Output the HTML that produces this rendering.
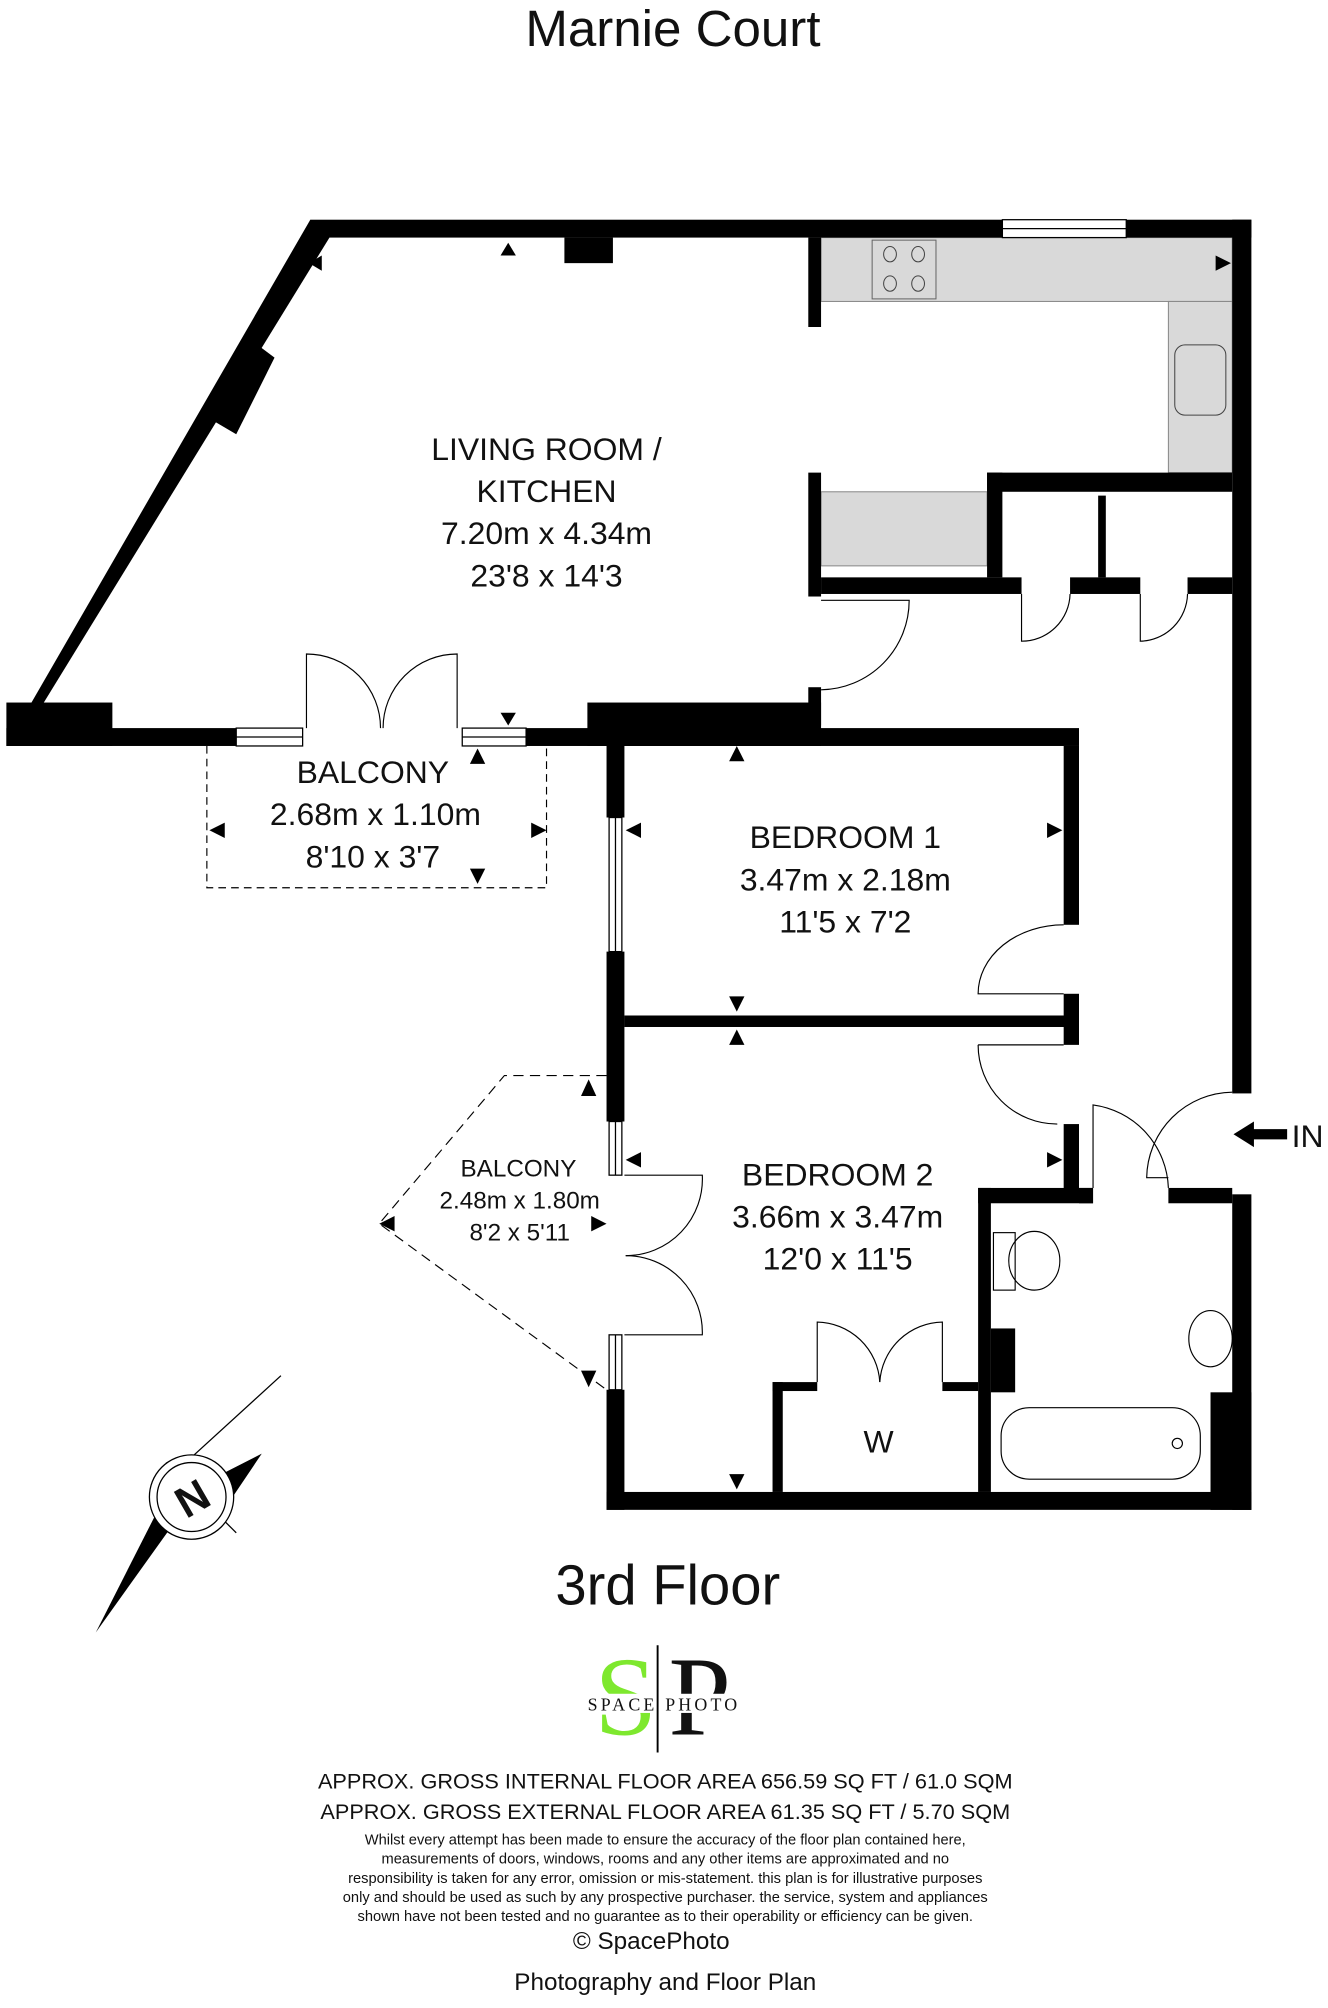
<!DOCTYPE html>
<html><head><meta charset="utf-8"><style>
html,body{margin:0;padding:0;background:#fff}
svg{display:block}
text{font-family:"Liberation Sans",Arial,sans-serif;fill:#111}
</style></head><body>
<svg width="1328" height="2008" viewBox="0 0 1040 1572" preserveAspectRatio="none" xmlns="http://www.w3.org/2000/svg">
<rect width="1040" height="1572" fill="#fff"/>
<text x="527" y="36" font-size="40" text-anchor="middle">Marnie Court</text>

<g fill="#d9d9d9" stroke="#888" stroke-width="0.8">
<rect x="643" y="186" width="322" height="50"/>
<rect x="915" y="236" width="50" height="134"/>
<rect x="643" y="385" width="130" height="58"/>
</g>
<rect x="683" y="188" width="50" height="46" fill="none" stroke="#666" stroke-width="0.8"/>
<g fill="none" stroke="#444" stroke-width="0.8">
<ellipse cx="697" cy="199" rx="5" ry="6"/><ellipse cx="719" cy="199" rx="5" ry="6"/>
<ellipse cx="697" cy="222" rx="5" ry="6"/><ellipse cx="719" cy="222" rx="5" ry="6"/>
<rect x="920" y="270" width="40" height="55" rx="8"/>
</g>

<g fill="#000">
<rect x="243" y="172" width="737" height="14"/>
<rect x="442" y="186" width="38" height="20"/>
<polygon points="243,172 258,186 22,570 5,584"/>
<polygon points="195,265 215,280 185,340 168,330"/>
<rect x="5" y="550" width="83" height="34"/>
<rect x="5" y="570" width="180" height="14"/>
<rect x="412" y="570" width="65" height="14"/>
<rect x="460" y="550" width="183" height="34"/>
<rect x="633" y="186" width="10" height="70"/>
<rect x="633" y="370" width="10" height="97"/>
<rect x="633" y="538" width="10" height="30"/>
<rect x="643" y="452" width="157" height="13"/>
<rect x="838" y="452" width="55" height="13"/>
<rect x="930" y="452" width="35" height="13"/>
<rect x="773" y="370" width="192" height="15"/>
<rect x="773" y="370" width="12" height="82"/>
<rect x="860" y="388" width="6" height="64"/>
<rect x="965" y="172" width="15" height="684"/>
<rect x="965" y="935" width="15" height="247"/>
<rect x="948" y="1090" width="32" height="92"/>
<rect x="475" y="570" width="370" height="14"/>
<rect x="475" y="584" width="14" height="56"/>
<rect x="475" y="745" width="14" height="133"/>
<rect x="475" y="1088" width="14" height="94"/>
<rect x="833" y="584" width="12" height="140"/>
<rect x="833" y="778" width="12" height="25"/>
<rect x="489" y="795" width="356" height="9"/>
<rect x="833" y="803" width="12" height="15"/>
<rect x="833" y="880" width="12" height="57"/>
<rect x="475" y="1168" width="505" height="14"/>
<rect x="766" y="930" width="90" height="12"/>
<rect x="845" y="930" width="11" height="12"/>
<rect x="915" y="930" width="50" height="12"/>
<rect x="766" y="930" width="10" height="238"/>
<rect x="776" y="1040" width="19" height="50"/>
<rect x="605" y="1082" width="8" height="86"/>
<rect x="605" y="1082" width="35" height="7"/>
<rect x="738" y="1082" width="28" height="7"/>
</g>

<g fill="#fff" stroke="#000" stroke-width="1">
<rect x="785" y="172" width="97" height="14"/>
<rect x="185" y="570" width="52" height="14"/>
<rect x="362" y="570" width="50" height="14"/>
<rect x="477" y="640" width="10" height="105"/>
<rect x="477" y="878" width="10" height="42"/>
<rect x="477" y="1045" width="10" height="43"/>
</g>
<g stroke="#000" stroke-width="1">
<line x1="785" y1="179" x2="882" y2="179"/><line x1="185" y1="577" x2="237" y2="577"/><line x1="362" y1="577" x2="412" y2="577"/>
<line x1="482" y1="640" x2="482" y2="745"/><line x1="482" y1="878" x2="482" y2="920"/><line x1="482" y1="1045" x2="482" y2="1088"/>
</g>

<g fill="none" stroke="#000" stroke-width="0.9">
<path d="M240,570 V512 A58,58 0 0 1 298,570"/>
<path d="M358,570 V512 A58,58 0 0 0 300,570"/>
<path d="M643,470 H712 A70,70 0 0 1 643,540"/>
<path d="M800,465 V502 A38,38 0 0 0 838,465"/>
<path d="M893,465 V502 A38,38 0 0 0 930,465"/>
<path d="M833,724 A67,54 0 0 0 766,778 H833"/>
<path d="M766,818 A62,62 0 0 0 828,880"/>
<path d="M766,818 H833"/>
<path d="M489,920 H550 A60,60 0 0 1 490,983"/>
<path d="M489,1045 H550 A60,60 0 0 0 490,983"/>
<path d="M640,1082 V1035 A50,50 0 0 1 689,1082"/>
<path d="M738,1082 V1035 A50,50 0 0 0 689,1082"/>
<path d="M856,930 V865 A68,68 0 0 1 915,930"/>
<path d="M965,855 A68,68 0 0 0 898,922 H915"/>
<path d="M162,584 V695 H428 V584" stroke-dasharray="6,4"/>
<path d="M475,842 H395 L297,958 L475,1088" stroke-dasharray="8,5"/>
<rect x="778" y="965" width="17" height="45"/>
<ellipse cx="810" cy="987" rx="20" ry="23"/>
<ellipse cx="948" cy="1048" rx="17" ry="22"/>
<rect x="784" y="1102" width="156" height="56" rx="22"/>
<circle cx="922" cy="1130" r="4"/>
</g>

<g fill="#000">
<polygon points="398,200 392,190 404,190" transform="rotate(180 398 195)"/>
<polygon points="242,206 252,200 252,212"/>
<polygon points="964,206 952,200 952,212"/>
<polygon points="398,568 392,558 404,558"/>
<polygon points="374,586 368,598 380,598"/>
<polygon points="577,584 571,596 583,596"/>
<polygon points="577,792 571,780 583,780"/>
<polygon points="577,806 571,818 583,818"/>
<polygon points="577,1166 571,1154 583,1154"/>
<polygon points="490,650 502,644 502,656"/>
<polygon points="832,650 820,644 820,656"/>
<polygon points="490,908 502,902 502,914"/>
<polygon points="832,908 820,902 820,914"/>
<polygon points="164,650 176,644 176,656"/>
<polygon points="428,650 416,644 416,656"/>
<polygon points="374,692 368,680 380,680"/>
<polygon points="461,845 455,858 467,858"/>
<polygon points="461,1086 455,1073 467,1073"/>
<polygon points="297,958 309,952 309,964"/>
<polygon points="475,958 463,952 463,964"/>
<polygon points="966,888 982,878 982,884 1008,884 1008,892 982,892 982,898"/>
</g>

<g font-size="25" text-anchor="middle">
<text x="428" y="360">LIVING ROOM /</text>
<text x="428" y="393">KITCHEN</text>
<text x="428" y="426">7.20m x 4.34m</text>
<text x="428" y="459">23'8 x 14'3</text>
<text x="292" y="613">BALCONY</text>
<text x="294" y="646">2.68m x 1.10m</text>
<text x="292" y="679">8'10 x 3'7</text>
<text x="662" y="664">BEDROOM 1</text>
<text x="662" y="697">3.47m x 2.18m</text>
<text x="662" y="730">11'5 x 7'2</text>
<text x="656" y="928">BEDROOM 2</text>
<text x="656" y="961">3.66m x 3.47m</text>
<text x="656" y="994">12'0 x 11'5</text>
<text x="688" y="1137">W</text>
<text x="1024" y="898">IN</text>
</g>
<g font-size="19" text-anchor="middle">
<text x="406" y="921">BALCONY</text>
<text x="407" y="946">2.48m x 1.80m</text>
<text x="407" y="971">8'2 x 5'11</text>
</g>

<g>
<polygon points="75,1278 140,1150 158,1162" fill="#000"/>
<polygon points="158,1162 205,1138 170,1190" fill="#000"/>
<line x1="140" y1="1150" x2="220" y2="1077" stroke="#000" stroke-width="1"/>
<line x1="130" y1="1145" x2="185" y2="1200" stroke="#000" stroke-width="1"/>
<circle cx="150" cy="1172" r="33" fill="#fff" stroke="#000" stroke-width="1"/>
<circle cx="150" cy="1172" r="27" fill="none" stroke="#000" stroke-width="1"/>
<text x="150" y="1185" font-size="34" text-anchor="middle" transform="rotate(-30 150 1172)" font-weight="bold">N</text>
</g>

<text x="523" y="1256" font-size="44" text-anchor="middle">3rd Floor</text>

<text x="490" y="1358" font-size="88" text-anchor="middle" style="fill:#7ee82e;font-family:'Liberation Serif',serif">S</text>
<text x="548" y="1358" font-size="88" text-anchor="middle" style="font-family:'Liberation Serif',serif">P</text>
<rect x="452" y="1326" width="136" height="15" fill="#fff"/>
<line x1="515" y1="1288" x2="515" y2="1372" stroke="#000" stroke-width="1.5"/>
<text x="520" y="1339" font-size="14" text-anchor="middle" letter-spacing="2.5" style="font-family:'Liberation Serif',serif">SPACE PHOTO</text>

<g text-anchor="middle">
<text x="521" y="1400" font-size="17">APPROX. GROSS INTERNAL FLOOR AREA 656.59 SQ FT / 61.0 SQM</text>
<text x="521" y="1424" font-size="17">APPROX. GROSS EXTERNAL FLOOR AREA 61.35 SQ FT / 5.70 SQM</text>
<g font-size="11.5">
<text x="521" y="1444">Whilst every attempt has been made to ensure the accuracy of the floor plan contained here,</text>
<text x="521" y="1459">measurements of doors, windows, rooms and any other items are approximated and no</text>
<text x="521" y="1474">responsibility is taken for any error, omission or mis-statement. this plan is for illustrative purposes</text>
<text x="521" y="1489">only and should be used as such by any prospective purchaser. the service, system and appliances</text>
<text x="521" y="1504">shown have not been tested and no guarantee as to their operability or efficiency can be given.</text>
</g>
<text x="510" y="1526" font-size="19">© SpacePhoto</text>
<text x="521" y="1558" font-size="19">Photography and Floor Plan</text>
</g>
</svg>
</body></html>
